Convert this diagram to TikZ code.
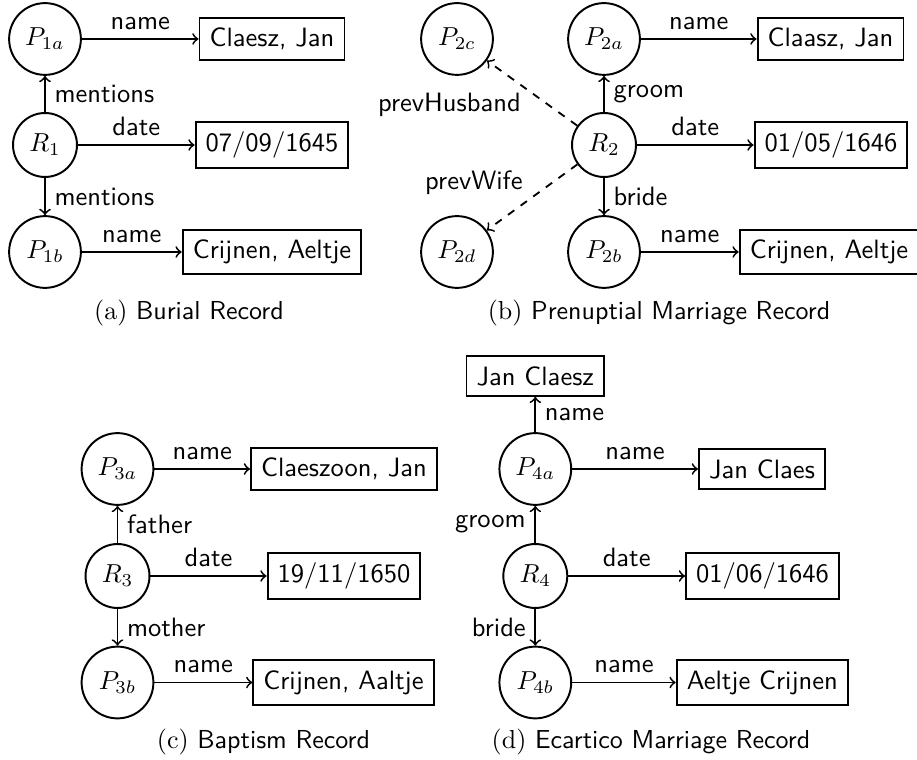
\documentclass[tikz,border=0pt]{standalone}
\begin{document}
\begin{tikzpicture}[
  x=0.384615pt, y=-0.384615pt,
  pnode/.style={circle, draw, line width=0.75pt, minimum size=27.6pt, inner sep=1pt},
  rnode/.style={circle, draw, line width=0.75pt, minimum size=24.6pt, inner sep=1pt},
  valbox/.style={rectangle, draw, line width=0.75pt, inner sep=3.9pt, font=\fontsize{10.2}{12}\sffamily},
  rel/.style={->, line width=0.7pt},
  prev/.style={->, dashed, line width=0.7pt},
  lbl/.style={font=\fontsize{10.2}{12}\sffamily},
  captext/.style={font=\sffamily}
]
\useasboundingbox (0,0) rectangle (917,760);

% ---------- (a) Burial Record ----------
\node[pnode] (p1a) at (45,39) {$P_{1a}$};
\node[rnode] (r1) at (45,145) {$R_1$};
\node[pnode] (p1b) at (45,252) {$P_{1b}$};
\node[valbox] (n1a) at (272,39) {Claesz, Jan};
\node[valbox] (d1) at (272,145) {07/09/1645};
\node[valbox] (n1b) at (272,252) {Crijnen, Aeltje};
\draw[rel] (p1a) -- node[lbl, midway, above] {name} (n1a);
\draw[rel] (r1) -- node[lbl, midway, above] {date} (d1);
\draw[rel] (p1b) -- node[lbl, midway, above] {name} (n1b);
\draw[rel] (r1) -- node[lbl, midway, right] {mentions} (p1a);
\draw[rel] (r1) -- node[lbl, midway, right] {mentions} (p1b);
\node[captext] (capa) at (189,313) {\rmfamily(a) \sffamily Burial Record};

% ---------- (b) Prenuptial Marriage Record ----------
\node[pnode] (p2c) at (457,39) {$P_{2c}$};
\node[pnode] (p2a) at (604,39) {$P_{2a}$};
\node[rnode] (r2) at (604,145) {$R_2$};
\node[pnode] (p2b) at (604,252) {$P_{2b}$};
\node[pnode] (p2d) at (457,252) {$P_{2d}$};
\node[valbox] (n2a) at (830.5,39) {Claasz, Jan};
\node[valbox] (d2) at (831,145) {01/05/1646};
\node[valbox] (n2b) at (829,252) {Crijnen, Aeltje};
\draw[rel] (p2a) -- node[lbl, midway, above] {name} (n2a);
\draw[rel] (r2) -- node[lbl, midway, above] {date} (d2);
\draw[rel] (p2b) -- node[lbl, midway, above] {name} (n2b);
\draw[rel] (r2) -- node[lbl, midway, right] {groom} (p2a);
\draw[rel] (r2) -- node[lbl, midway, right] {bride} (p2b);
\draw[prev] (r2) -- node[lbl, midway, anchor=east, xshift=-0.7pt, yshift=-4.4pt] {prevHusband} (p2c);
\draw[prev] (r2) -- node[lbl, midway, anchor=east, yshift=5.6pt] {prevWife} (p2d);
\node[captext] (capb) at (659,313) {\rmfamily(b) \sffamily Prenuptial Marriage Record};

% ---------- (c) Baptism Record ----------
\node[pnode] (p3a) at (117.5,469) {$P_{3a}$};
\node[rnode] (r3) at (117.5,576) {$R_3$};
\node[pnode] (p3b) at (117.5,682.5) {$P_{3b}$};
\node[valbox] (n3a) at (344,469) {Claeszoon, Jan};
\node[valbox] (d3) at (344,576) {19/11/1650};
\node[valbox] (n3b) at (343.5,682.5) {Crijnen, Aaltje};
\draw[rel] (p3a) -- node[lbl, midway, above] {name} (n3a);
\draw[rel] (r3) -- node[lbl, midway, above] {date} (d3);
\draw[rel] (p3b) -- node[lbl, midway, above] {name} (n3b);
\draw[rel] (r3) -- node[lbl, midway, right] {father} (p3a);
\draw[rel] (r3) -- node[lbl, midway, right] {mother} (p3b);
\node[captext] (capc) at (263.5,742) {\rmfamily(c) \sffamily Baptism Record};

% ---------- (d) Ecartico Marriage Record ----------
\node[valbox] (n4c) at (535.3,376) {Jan Claesz};
\node[pnode] (p4a) at (535.3,469) {$P_{4a}$};
\node[rnode] (r4) at (535.3,576) {$R_4$};
\node[pnode] (p4b) at (535.3,682.5) {$P_{4b}$};
\node[valbox] (n4a) at (762,469) {Jan Claes};
\node[valbox] (d4) at (762.5,576) {01/06/1646};
\node[valbox] (n4b) at (762.3,682.5) {Aeltje Crijnen};
\draw[rel] (p4a) -- node[lbl, midway, right] {name} (n4c);
\draw[rel] (p4a) -- node[lbl, midway, above] {name} (n4a);
\draw[rel] (r4) -- node[lbl, midway, above] {date} (d4);
\draw[rel] (p4b) -- node[lbl, midway, above] {name} (n4b);
\draw[rel] (r4) -- node[lbl, midway, left] {groom} (p4a);
\draw[rel] (r4) -- node[lbl, midway, left] {bride} (p4b);
\node[captext] (capd) at (651,742) {\rmfamily(d) \sffamily Ecartico Marriage Record};
\end{tikzpicture}
\end{document}
